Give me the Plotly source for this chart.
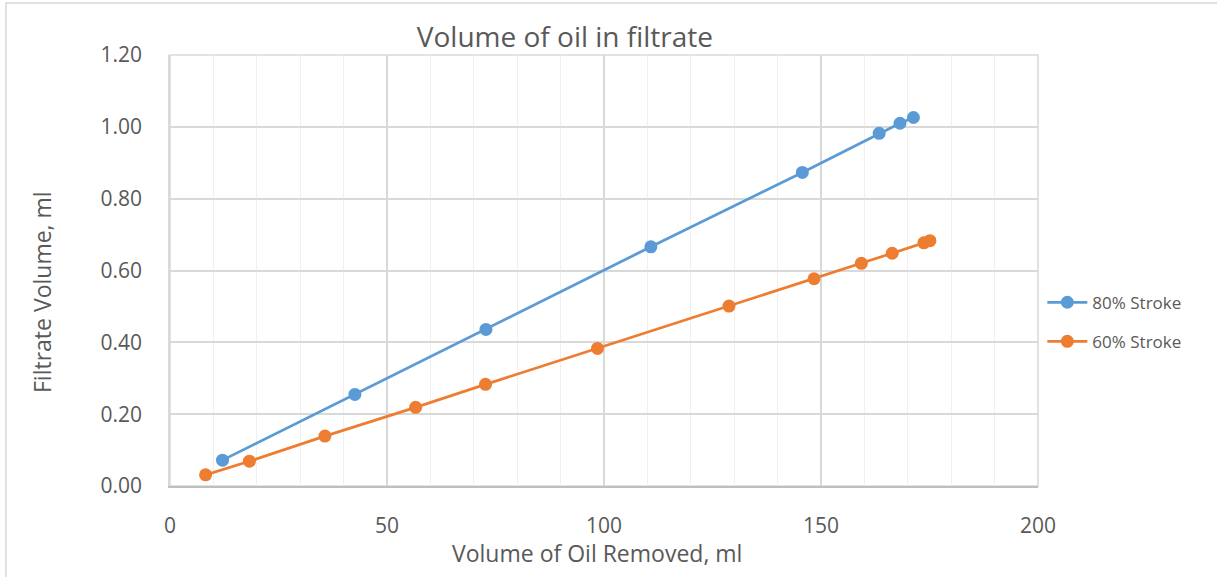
import plotly.graph_objects as go

# Oil removed (ml) vs filtrate volume (ml) for two stroke settings
stroke80_removed = [12.1, 42.6, 72.8, 110.8, 145.7, 163.4, 168.2, 171.3]
stroke80_filtrate = [0.072, 0.255, 0.436, 0.666, 0.873, 0.982, 1.010, 1.026]

stroke60_removed = [8.2, 18.3, 35.7, 56.6, 72.7, 98.5, 128.8, 148.4, 159.3, 166.4, 173.7, 175.1]
stroke60_filtrate = [0.031, 0.069, 0.139, 0.219, 0.283, 0.383, 0.501, 0.577, 0.620, 0.648, 0.677, 0.683]

series_names = ["80% Stroke", "60% Stroke"]
BLUE = "#5B9BD5"
ORANGE = "#ED7D31"
FONT = "Open Sans"
TEXT = "#595959"

fig = go.Figure()
fig.add_trace(go.Scatter(
    x=stroke80_removed, y=stroke80_filtrate, name=series_names[0],
    mode="lines+markers", legendgroup="a",
    line=dict(color=BLUE, width=2.75),
    marker=dict(color=BLUE, size=13),
))
fig.add_trace(go.Scatter(
    x=stroke60_removed, y=stroke60_filtrate, name=series_names[1],
    mode="lines+markers", legendgroup="b",
    line=dict(color=ORANGE, width=2.75),
    marker=dict(color=ORANGE, size=13),
))

fig.update_layout(
    width=1217, height=577,
    margin=dict(l=170, r=179, t=55, b=91),
    paper_bgcolor="white", plot_bgcolor="white",
    font=dict(family=FONT, color=TEXT, size=18),
    title=dict(text="Volume of oil in filtrate", x=0.455, xref="paper", xanchor="center",
               y=0.935, yanchor="middle", font=dict(size=28, color=TEXT, family=FONT)),
    legend=dict(x=1.005, y=0.38, xanchor="left", yanchor="middle",
                font=dict(size=17, color=TEXT, family=FONT),
                bgcolor="rgba(0,0,0,0)", tracegroupgap=14, itemwidth=40),
    xaxis=dict(
        range=[0, 200], dtick=50, tick0=0,
        showgrid=True, gridcolor="#d9d9d9", gridwidth=1.5,
        minor=dict(dtick=10, showgrid=True, gridcolor="#f0f0f0", gridwidth=1),
        showline=True, linecolor="#bfbfbf", linewidth=2, mirror=False,
        zeroline=False, ticks="", ticklabelstandoff=20,
        tickfont=dict(size=21, color=TEXT),
    ),
    yaxis=dict(
        range=[0, 1.2], dtick=0.2, tick0=0, tickformat=".2f",
        showgrid=True, gridcolor="#d9d9d9", gridwidth=1.5,
        showline=True, linecolor="#d9d9d9", linewidth=1.5,
        zeroline=False, ticks="", ticklabelstandoff=22,
        tickfont=dict(size=21, color=TEXT),
    ),
    showlegend=True,
)

# axis titles
fig.add_annotation(text="Volume of Oil Removed, ml", xref="paper", yref="paper",
                   x=(597 - 170) / 868, y=(486 - 553) / 431, xanchor="center", yanchor="middle",
                   showarrow=False, font=dict(size=23, color=TEXT, family=FONT))
fig.add_annotation(text="Filtrate Volume, ml", xref="paper", yref="paper", textangle=-90,
                   x=(42 - 170) / 868, y=(486 - 292) / 431, xanchor="center", yanchor="middle",
                   showarrow=False, font=dict(size=23, color=TEXT, family=FONT))

# plot-area outline on the right/top
fig.add_shape(type="rect", xref="paper", yref="paper", x0=0, y0=0, x1=1, y1=1,
              line=dict(color="#d9d9d9", width=1.5), layer="below")
# chart frame
fig.add_shape(type="rect", xref="paper", yref="paper", x0=-0.189, y0=-0.5, x1=1.5, y1=1.1206,
              line=dict(color="#d9d9d9", width=1.5), layer="below")

fig.write_html("out.html")
